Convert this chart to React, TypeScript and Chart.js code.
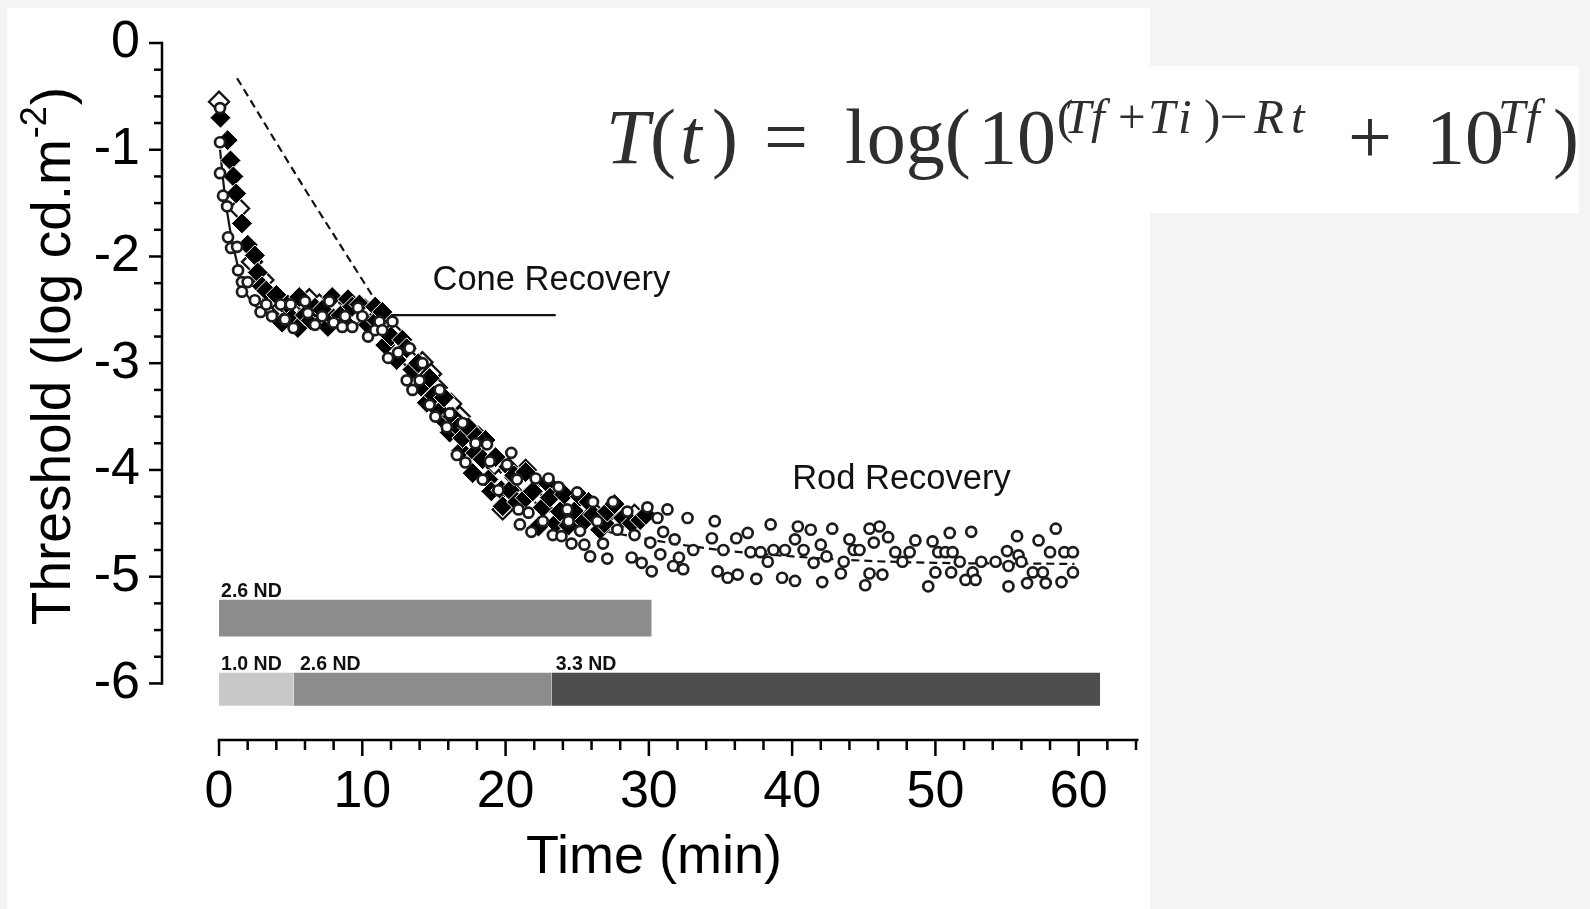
import React, { useEffect, useRef } from "react";
import { Chart, registerables } from "chart.js";

Chart.register(...registerables);

// ---------- axis ticks ----------
const X_TICKS = [0, 2, 4, 6, 8, 10, 12, 14, 16, 18, 20, 22, 24, 26, 28, 30, 32, 34, 36, 38, 40, 42, 44, 46, 48, 50, 52, 54, 56, 58, 60, 62, 64];
const X_LABELED = [0, 10, 20, 30, 40, 50, 60];
const Y_TICKS = [0, -0.25, -0.5, -0.75, -1, -1.25, -1.5, -1.75, -2, -2.25, -2.5, -2.75, -3, -3.25, -3.5, -3.75, -4, -4.25, -4.5, -4.75, -5, -5.25, -5.5, -5.75, -6];
const Y_LABELED = [0, -1, -2, -3, -4, -5, -6];

// ---------- data series: [time (min), threshold (log cd/m2)] ----------
const filledDiamonds: number[][] = [
  [0.1, -0.7], [0.6, -0.91], [0.8, -1.1], [1.0, -1.25], [1.2, -1.41], [1.6, -1.69], [2.0, -1.89], [2.5, -1.99],
  [2.7, -2.15], [3.0, -2.28], [3.3, -2.32], [4.0, -2.36], [4.4, -2.62], [4.8, -2.45], [5.1, -2.58], [5.5, -2.67],
  [5.6, -2.38], [6.0, -2.55], [6.4, -2.6], [6.7, -2.48], [7.2, -2.5], [7.6, -2.66], [7.9, -2.38], [8.0, -2.58],
  [8.5, -2.55], [8.8, -2.62], [9.0, -2.4], [9.3, -2.47], [9.8, -2.45], [10.4, -2.64], [10.9, -2.47], [11.0, -2.6],
  [11.4, -2.52], [11.6, -2.83], [12.0, -2.75], [12.4, -2.97], [12.8, -2.78], [13.1, -2.86], [13.5, -3.06], [13.9, -3.0],
  [14.1, -3.22], [14.5, -3.37], [14.7, -3.14], [15.0, -3.3], [15.4, -3.45], [15.7, -3.32], [15.8, -3.55], [16.1, -3.65],
  [16.3, -3.5], [16.7, -3.6], [16.9, -3.82], [17.0, -3.7], [17.4, -3.6], [17.7, -4.03], [17.9, -3.84], [18.0, -3.69],
  [18.4, -3.9], [18.6, -3.72], [18.8, -4.09], [19.0, -4.2], [19.3, -3.88], [19.7, -4.19], [19.8, -4.34], [20.2, -3.97],
  [20.3, -4.19], [20.6, -4.05], [20.8, -4.3], [21.4, -4.02], [21.4, -4.26], [21.9, -4.2], [22.3, -4.53], [22.6, -4.35],
  [22.9, -4.12], [23.1, -4.26], [23.5, -4.5], [23.8, -4.39], [24.1, -4.23], [24.4, -4.52], [24.8, -4.39], [25.2, -4.25],
  [25.5, -4.48], [25.8, -4.3], [26.1, -4.42], [26.6, -4.56], [26.9, -4.5], [27.1, -4.39], [27.6, -4.32], [28.2, -4.45],
  [28.8, -4.5], [29.4, -4.47], [29.8, -4.42],
];

const openDiamonds: number[][] = [
  [0.0, -0.55], [1.4, -1.55], [2.3, -2.05], [3.1, -2.22], [3.8, -2.4], [4.4, -2.48], [5.0, -2.5], [6.3, -2.4],
  [7.0, -2.45], [8.2, -2.5], [9.6, -2.55], [10.2, -2.5], [11.2, -2.58], [12.1, -2.71], [13.2, -2.95], [14.2, -2.99],
  [14.8, -3.1], [15.2, -3.23], [16.2, -3.38], [16.8, -3.5], [17.5, -3.75], [18.1, -3.69], [19.2, -3.95], [19.8, -4.37],
  [20.6, -4.22], [21.4, -4.0], [22.8, -4.18], [23.4, -4.3], [24.6, -4.32], [25.4, -4.38], [26.2, -4.4], [27.8, -4.5],
  [29.0, -4.42],
];

const openCircles: number[][] = [
  [0.07, -0.61], [0.07, -0.93], [0.07, -1.22], [0.28, -1.43], [0.56, -1.53], [0.63, -1.82], [0.84, -1.92], [1.26, -1.91],
  [1.33, -2.13], [1.6, -2.24], [1.6, -2.33], [2.0, -2.24], [2.5, -2.41], [2.9, -2.52], [3.3, -2.45], [3.7, -2.56],
  [4.3, -2.45], [4.6, -2.59], [5.0, -2.45], [5.2, -2.67], [6.0, -2.42], [6.2, -2.53], [6.7, -2.64], [7.2, -2.56],
  [7.7, -2.42], [8.0, -2.62], [8.6, -2.66], [8.8, -2.56], [9.3, -2.66], [9.7, -2.48], [10.0, -2.56], [10.4, -2.75],
  [10.9, -2.69], [11.2, -2.61], [11.4, -2.69], [11.8, -2.95], [12.1, -2.61], [12.5, -2.9], [13.1, -3.16], [13.3, -2.86],
  [13.5, -3.25], [14.0, -3.16], [14.2, -3.0], [14.7, -3.39], [15.1, -3.5], [15.4, -3.25], [15.9, -3.6], [16.1, -3.47],
  [16.6, -3.86], [17.0, -3.56], [17.2, -3.93], [17.9, -3.75], [18.4, -4.09], [18.7, -3.76], [18.9, -3.92], [19.5, -4.19],
  [20.1, -3.95], [20.4, -3.84], [20.8, -4.09], [20.9, -4.37], [21.6, -4.4], [21.0, -4.51], [21.8, -4.58], [22.1, -4.08],
  [22.6, -4.48], [23.0, -4.08], [23.3, -4.61], [23.7, -4.16], [23.9, -4.62], [24.3, -4.37], [24.4, -4.48], [24.6, -4.69],
  [25.0, -4.21], [25.2, -4.57], [25.5, -4.7], [25.9, -4.81], [26.1, -4.3], [26.4, -4.48], [26.8, -4.69], [27.1, -4.83],
  [27.5, -4.3], [27.8, -4.56], [28.5, -4.39], [28.8, -4.82], [29.0, -4.61], [29.5, -4.87], [29.9, -4.35], [30.1, -4.68],
  [30.2, -4.95], [30.6, -4.45], [30.8, -4.79], [31.0, -4.58], [31.3, -4.37], [31.7, -4.9], [31.8, -4.65], [32.1, -4.82],
  [32.4, -4.93], [32.7, -4.45], [33.1, -4.75], [34.4, -4.64], [34.6, -4.48], [34.8, -4.95], [35.2, -4.75], [35.5, -5.01],
  [36.1, -4.64], [36.2, -4.98], [36.9, -4.59], [37.1, -4.77], [37.5, -5.02], [37.8, -4.77], [38.3, -4.86], [38.5, -4.51],
  [38.7, -4.75], [39.3, -5.01], [39.5, -4.75], [40.2, -5.04], [40.2, -4.65], [40.4, -4.53], [40.8, -4.75], [41.3, -4.56],
  [41.5, -4.87], [42.0, -4.7], [42.1, -5.05], [42.4, -4.81], [42.8, -4.55], [43.4, -4.97], [43.6, -4.86], [44.0, -4.65],
  [44.3, -4.75], [44.7, -4.75], [45.1, -5.08], [45.4, -4.97], [45.4, -4.55], [45.7, -4.68], [46.1, -4.53], [46.3, -4.98],
  [46.7, -4.63], [47.2, -4.77], [47.7, -4.86], [48.2, -4.77], [48.6, -4.66], [49.5, -5.09], [49.8, -4.67], [50.0, -4.96],
  [50.2, -4.77], [50.7, -4.77], [51.0, -4.59], [51.1, -4.96], [51.2, -4.77], [51.7, -4.86], [52.1, -5.03], [52.5, -4.58],
  [52.6, -4.96], [52.8, -5.03], [53.2, -4.86], [54.2, -4.86], [55.0, -4.76], [55.1, -4.9], [55.1, -5.09], [55.7, -4.62],
  [55.8, -4.8], [56.0, -4.86], [56.4, -5.06], [56.8, -4.96], [57.2, -4.66], [57.5, -4.96], [57.7, -5.06], [58.0, -4.77],
  [58.4, -4.55], [58.8, -5.05], [59.0, -4.77], [59.6, -4.77], [59.6, -4.96],
];

// fitted curves
const coneFit: number[][] = [
  [0.07, -1.0], [0.42, -1.44], [0.77, -1.75], [1.26, -2.06], [1.67, -2.28], [2.3, -2.43], [3.07, -2.51], [4.4, -2.545], [6.0, -2.55], [23.5, -2.55],
];
const rodFit: number[][] = [
  [1.26, -0.33], [6.0, -1.37], [9.3, -2.07], [11.0, -2.43], [13.0, -2.85], [15.0, -3.25], [18.0, -3.78], [20.0, -4.07],
  [22.0, -4.3], [25.0, -4.5], [30.0, -4.65], [35.0, -4.75], [40.0, -4.81], [45.0, -4.85], [50.0, -4.87], [59.7, -4.88],
];

// neutral density filter bars
const barStart = [0, 0, 5.2, 23.2];
const barEnd = [30.2, 5.2, 23.2, 61.5];
const barTop = [-5.215, -5.9, -5.9, -5.9];
const barBottom = [-5.56, -6.21, -6.21, -6.21];
const barColors = ["#8c8c8c", "#c8c8c8", "#8c8c8c", "#4d4d4d"];

const ndLabels = ["2.6 ND", "1.0 ND", "2.6 ND", "3.3 ND"];
const ndLabelT = [0.14, 0.14, 5.65, 23.5];
const ndLabelY = [-5.187, -5.871, -5.871, -5.871];

const phaseLabels = ["Cone Recovery", "Rod Recovery"];
const phaseLabelT = [14.9, 40.0];
const phaseLabelY = [-2.313, -4.176];

const toXY = (arr: number[][]) => arr.map(([x, y]) => ({ x, y }));

const SANS = '"Liberation Sans", Arial, Helvetica, sans-serif';

const decorPlugin = {
  id: "decor",
  afterDatasetsDraw(chart: any) {
    const { ctx, chartArea, scales } = chart;
    const xs = scales.x;
    const ys = scales.y;
    ctx.save();
    ctx.strokeStyle = "#000";
    ctx.lineWidth = 2.5;
    ctx.lineCap = "butt";

    // y axis (0 .. -6)
    const ax = chartArea.left;
    const yTop = ys.getPixelForValue(Y_TICKS[0]);
    const yBot = ys.getPixelForValue(Y_TICKS[Y_TICKS.length - 1]);
    ctx.beginPath();
    ctx.moveTo(ax, yTop - 1.25);
    ctx.lineTo(ax, yBot + 1.25);
    ctx.stroke();
    for (const v of Y_TICKS) {
      const p = ys.getPixelForValue(v);
      const len = Y_LABELED.includes(v) ? 13 : 8;
      ctx.beginPath();
      ctx.moveTo(ax, p);
      ctx.lineTo(ax - len, p);
      ctx.stroke();
    }

    // x axis (0 .. 64)
    const ay = chartArea.bottom;
    const xL = xs.getPixelForValue(X_TICKS[0]);
    const xR = xs.getPixelForValue(X_TICKS[X_TICKS.length - 1]);
    ctx.beginPath();
    ctx.moveTo(xL - 1.25, ay);
    ctx.lineTo(xR + 2.5, ay);
    ctx.stroke();
    for (const v of X_TICKS) {
      const p = xs.getPixelForValue(v);
      const len = X_LABELED.includes(v) ? 16 : 10;
      ctx.beginPath();
      ctx.moveTo(p, ay);
      ctx.lineTo(p, ay + len);
      ctx.stroke();
    }

    // text annotations
    ctx.fillStyle = "#111";
    ctx.textAlign = "left";
    ctx.textBaseline = "alphabetic";
    ctx.font = `34.5px ${SANS}`;
    phaseLabels.forEach((t, i) => {
      ctx.fillText(t, xs.getPixelForValue(phaseLabelT[i]), ys.getPixelForValue(phaseLabelY[i]));
    });
    ctx.font = `bold 19.5px ${SANS}`;
    ndLabels.forEach((t, i) => {
      ctx.fillText(t, xs.getPixelForValue(ndLabelT[i]), ys.getPixelForValue(ndLabelY[i]));
    });

    // x axis title
    ctx.fillStyle = "#000";
    ctx.font = `54px ${SANS}`;
    ctx.textAlign = "center";
    ctx.fillText("Time (min)", 654, 873);
    ctx.textAlign = "left";

    // y axis title with superscript
    const main = "Threshold (log cd.m";
    const sup = "-2";
    const close = ")";
    ctx.font = `55px ${SANS}`;
    const w1 = ctx.measureText(main).width;
    const w3 = ctx.measureText(close).width;
    ctx.font = `36px ${SANS}`;
    const w2 = ctx.measureText(sup).width;
    const total = w1 + w2 + w3;
    ctx.translate(70, 357 + total / 2);
    ctx.rotate(-Math.PI / 2);
    ctx.font = `55px ${SANS}`;
    ctx.fillText(main, 0, 0);
    ctx.font = `36px ${SANS}`;
    ctx.fillText(sup, w1 + 1, -24);
    ctx.font = `55px ${SANS}`;
    ctx.fillText(close, w1 + w2 + 2, 0);
    ctx.restore();
  },
};

type Piece = { t: string; left: number; sup?: boolean; it?: boolean };
const eqPieces: Piece[] = [
  { t: "T", left: 606, it: true },
  { t: "(", left: 650 },
  { t: "t", left: 680, it: true },
  { t: ")", left: 712 },
  { t: "=", left: 764 },
  { t: "log(", left: 845 },
  { t: "10", left: 978 },
  { t: "(", left: 1057, sup: true },
  { t: "T", left: 1064, sup: true, it: true },
  { t: "f", left: 1091, sup: true, it: true },
  { t: "+", left: 1118, sup: true },
  { t: "T", left: 1148, sup: true, it: true },
  { t: "i", left: 1178, sup: true, it: true },
  { t: ")", left: 1204, sup: true },
  { t: "\u2212", left: 1220, sup: true },
  { t: "R", left: 1254, sup: true, it: true },
  { t: "t", left: 1291, sup: true, it: true },
  { t: "+", left: 1348 },
  { t: "10", left: 1426 },
  { t: "T", left: 1498, sup: true, it: true },
  { t: "f", left: 1526, sup: true, it: true },
  { t: ")", left: 1553 },
];

export default function App() {
  const ref = useRef<HTMLCanvasElement>(null);

  useEffect(() => {
    if (!ref.current) return;
    const barSets = barStart.map((s, i) => ({
      label: `bar${i}`,
      data: [
        { x: s, y: barTop[i] },
        { x: barEnd[i], y: barTop[i] },
      ],
      showLine: true,
      fill: { value: barBottom[i] },
      backgroundColor: barColors[i],
      borderColor: barColors[i],
      borderWidth: 0,
      pointRadius: 0,
      pointHoverRadius: 0,
      order: 20 + i,
    }));

    const chart = new Chart(ref.current, {
      type: "scatter",
      data: {
        datasets: [
          {
            label: "circles",
            data: toXY(openCircles),
            pointStyle: "circle",
            pointRadius: 5,
            pointBorderWidth: 2.7,
            pointBorderColor: "#1c1c1c",
            pointBackgroundColor: "#fff",
            order: 0,
          },
          {
            label: "filled",
            data: toXY(filledDiamonds),
            pointStyle: "rectRot",
            pointRadius: 10.5,
            pointBorderWidth: 1,
            pointBorderColor: "#fff",
            pointBackgroundColor: "#000",
            order: 1,
          },
          {
            label: "open",
            data: toXY(openDiamonds),
            pointStyle: "rectRot",
            pointRadius: 10,
            pointBorderWidth: 2.3,
            pointBorderColor: "#111",
            pointBackgroundColor: "#fff",
            order: 2,
          },
          {
            label: "cone fit",
            data: toXY(coneFit),
            showLine: true,
            borderColor: "#111",
            borderWidth: 2.2,
            pointRadius: 0,
            pointHoverRadius: 0,
            cubicInterpolationMode: "monotone",
            fill: false,
            order: 5,
          },
          {
            label: "rod fit",
            data: toXY(rodFit),
            showLine: true,
            borderColor: "#111",
            borderWidth: 2.2,
            borderDash: [8, 5],
            pointRadius: 0,
            pointHoverRadius: 0,
            cubicInterpolationMode: "monotone",
            fill: false,
            order: 6,
          },
          ...barSets,
        ] as any,
      },
      options: {
        responsive: false,
        animation: false,
        events: [],
        layout: { padding: { left: 0, top: 43, right: 14, bottom: 0 } },
        plugins: { legend: { display: false }, tooltip: { enabled: false } },
        scales: {
          x: {
            type: "linear",
            min: -3.98,
            max: 64,
            bounds: "data",
            grid: { display: false, drawTicks: false },
            border: { display: false },
            afterBuildTicks: (s: any) => {
              s.ticks = X_TICKS.map((v) => ({ value: v }));
            },
            afterFit: (s: any) => {
              s.height = 169;
              s.paddingLeft = 0;
              s.paddingRight = 0;
            },
            ticks: {
              autoSkip: false,
              maxRotation: 0,
              padding: 21,
              color: "#000",
              font: { family: SANS, size: 52 },
              callback: (v: any) => (X_LABELED.includes(Number(v)) ? String(v) : ""),
            },
          },
          y: {
            type: "linear",
            min: -6.53,
            max: 0,
            bounds: "data",
            grid: { display: false, drawTicks: false },
            border: { display: false },
            afterBuildTicks: (s: any) => {
              s.ticks = Y_TICKS.map((v) => ({ value: v }));
            },
            afterFit: (s: any) => {
              s.width = 162;
              s.paddingTop = 0;
              s.paddingBottom = 0;
            },
            ticks: {
              autoSkip: false,
              padding: 22,
              color: "#000",
              font: { family: SANS, size: 52 },
              callback: (v: any) => (Y_LABELED.includes(Number(v)) ? String(v) : ""),
            },
          },
        },
      } as any,
      plugins: [decorPlugin],
    });
    return () => chart.destroy();
  }, []);

  return (
    <div style={{ position: "absolute", left: 0, top: 0, width: 1590, height: 909, background: "#f4f4f4", overflow: "hidden" }}>
      <div style={{ position: "absolute", left: 7, top: 8, width: 1143, height: 901, background: "#fff" }} />
      <div style={{ position: "absolute", left: 1150, top: 66, width: 429, height: 147, background: "#fff" }} />
      <canvas ref={ref} width={1150} height={909} style={{ position: "absolute", left: 0, top: 0, width: 1150, height: 909 }} />
      <div style={{ position: "absolute", left: 0, top: 0, width: 1590, height: 909, pointerEvents: "none" }}>
        {eqPieces.map((p, i) => {
          const size = p.sup ? 49 : 78;
          const base = p.sup ? 133 : 163;
          return (
            <span
              key={i}
              style={{
                position: "absolute",
                left: p.left,
                top: base - 0.8375 * size,
                fontFamily: '"Liberation Serif", "Times New Roman", serif',
                fontSize: size,
                lineHeight: 1,
                fontStyle: p.it ? "italic" : "normal",
                color: "#2e2e2e",
                whiteSpace: "pre",
              }}
            >
              {p.t}
            </span>
          );
        })}
      </div>
    </div>
  );
}
